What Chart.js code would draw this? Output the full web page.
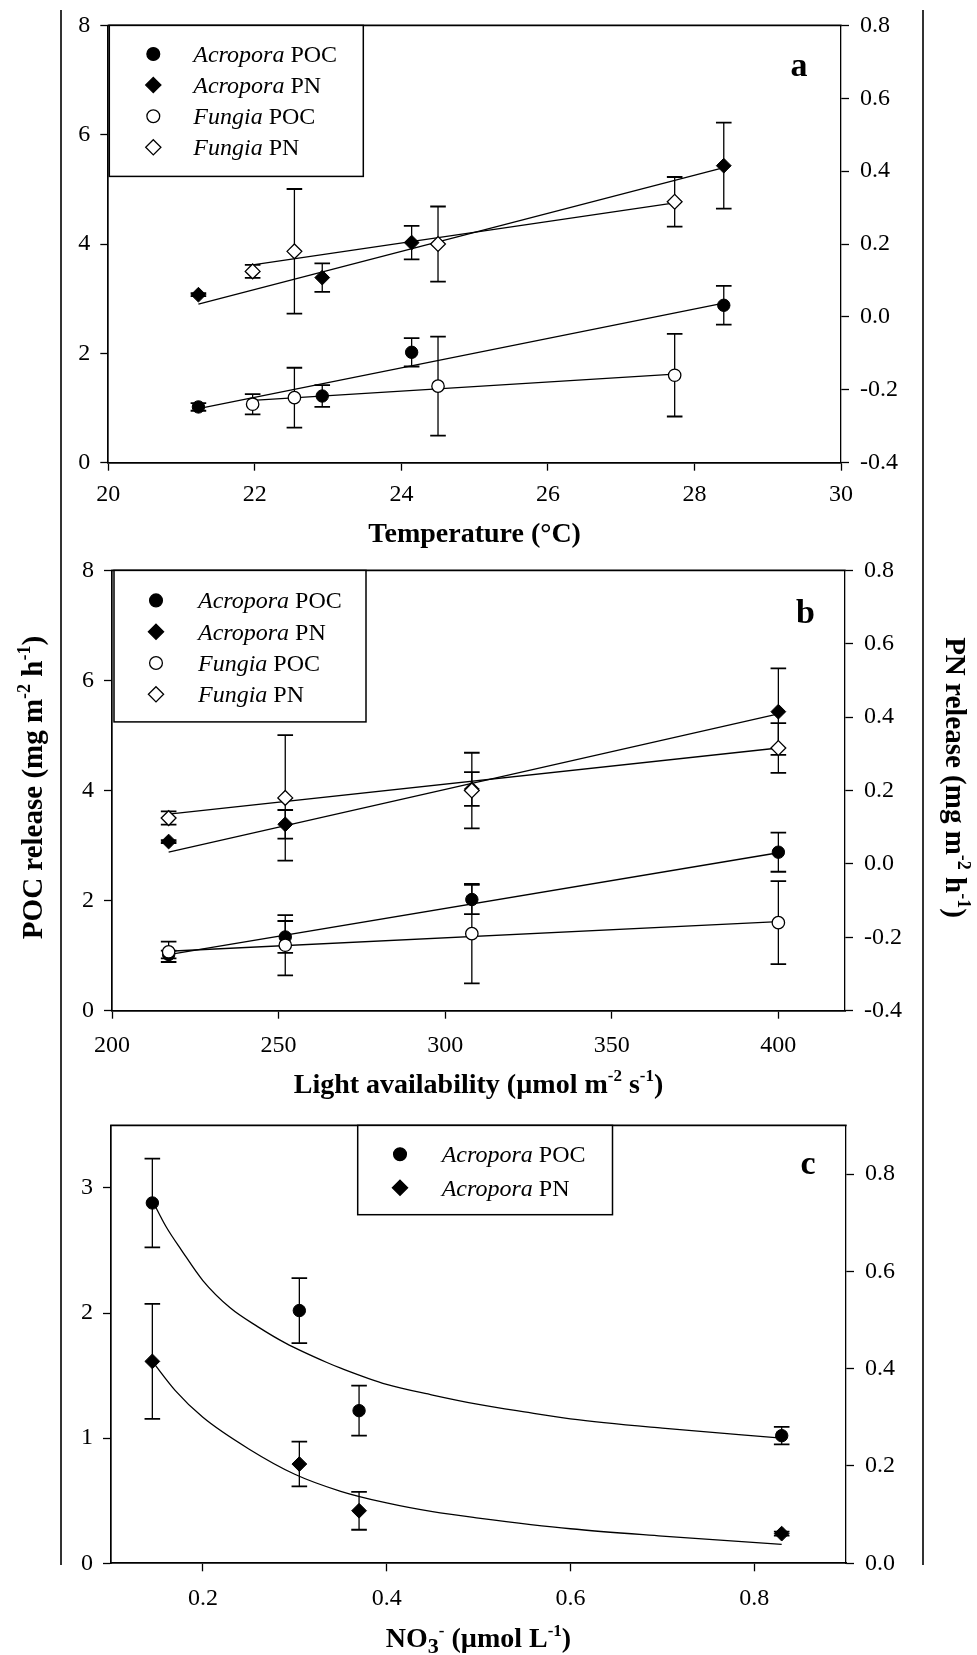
<!DOCTYPE html>
<html>
<head>
<meta charset="utf-8">
<title>Coral POC and PN release</title>
<script src="https://cdn.jsdelivr.net/npm/chart.js@4.4.1/dist/chart.umd.min.js"></script>
<style>
  html, body { margin: 0; padding: 0; background: #fff; }
  #page { position: relative; width: 977px; height: 1655px; overflow: hidden; background: #fff; }
  .rule { position: absolute; top: 10px; height: 1555px; width: 1.5px; background: #333; }
  canvas { position: absolute; left: 0; }
</style>
</head>
<body>
<div id="page">
  <div class="rule" style="left:60px"></div>
  <div class="rule" style="left:922px"></div>
  <canvas id="panelA" width="977" height="560" style="top:0px"></canvas>
  <canvas id="panelB" width="977" height="555" style="top:545px"></canvas>
  <canvas id="panelC" width="977" height="555" style="top:1100px"></canvas>
</div>
<script>
// ---------- measured conditions ----------
const acroTemp = [21.23, 22.92, 24.14, 28.4];      // °C, Acropora incubations
const fungTemp = [21.97, 22.54, 24.5, 27.73];      // °C, Fungia incubations
const lightLevels = [217, 252, 308, 400];          // µmol m-2 s-1
const acroNitrate = [0.83, 0.37, 0.305, 0.145];    // µmol L-1 (same order as acroTemp)

// ---------- release rates (mean ± SE) ----------
const acroPOC   = [1.02, 1.22, 2.02, 2.88];
const acroPOCse = [0.07, 0.20, 0.26, 0.355];
const acroPOClight   = [1.02, 1.34, 2.02, 2.88];
const acroPOClightSe = [0.07, 0.29, 0.265, 0.355];
const acroPN    = [0.061, 0.108, 0.204, 0.415];
const acroPNse  = [0.004, 0.039, 0.046, 0.118];
const fungPOC   = [1.07, 1.19, 1.40, 1.60];
const fungPOCse = [0.185, 0.547, 0.905, 0.755];
const fungPN    = [0.125, 0.18, 0.2, 0.316];
const fungPNse  = [0.018, 0.171, 0.103, 0.068];

// ---------- regression lines (end points) ----------
const fitTempAcroX = [21.23, 28.4];
const fitTempAcroPOC = [0.99, 2.92];
const fitTempAcroPN = [0.035, 0.41];
const fitTempFungX = [21.97, 27.73];
const fitTempFungPOC = [1.14, 1.62];
const fitTempFungPN = [0.143, 0.313];
const fitLightX = [217, 400];
const fitLightAcroPOC = [1.02, 2.87];
const fitLightAcroPN = [0.032, 0.409];
const fitLightFungPOC = [1.08, 1.62];
const fitLightFungPN = [0.136, 0.316];

// ---------- nitrate response curves ----------
const curvePOCx = [0.145, 0.16, 0.177, 0.2, 0.23, 0.26, 0.29, 0.335, 0.35, 0.4, 0.45, 0.5, 0.55, 0.6, 0.7, 0.83];
const curvePOCy = [2.9, 2.69, 2.5, 2.26, 2.04, 1.89, 1.76, 1.605, 1.56, 1.43, 1.345, 1.27, 1.21, 1.155, 1.08, 1.0];
const curvePNx  = [0.145, 0.17, 0.2, 0.25, 0.3, 0.35, 0.4, 0.45, 0.5, 0.6, 0.7, 0.83];
const curvePNy  = [0.415, 0.355, 0.3, 0.235, 0.183, 0.148, 0.124, 0.106, 0.093, 0.071, 0.056, 0.039];

// ---------- tick values ----------
const tempTicks = [20, 22, 24, 26, 28, 30];
const lightTicks = [200, 250, 300, 350, 400];
const nitrateTicks = [0.2, 0.4, 0.6, 0.8];
const pocTicksAB = [0, 2, 4, 6, 8];
const pnTicksAB = [-0.4, -0.2, 0, 0.2, 0.4, 0.6, 0.8];
const pocTicksC = [0, 1, 2, 3];
const pnTicksC = [0, 0.2, 0.4, 0.6, 0.8];

// ---------- axis titles (rich text: s = superscript, b = subscript) ----------
const tempTitle = [{ t: 'Temperature (°C)' }];
const lightTitle = [{ t: 'Light availability (µmol m' }, { t: '-2', k: 's' }, { t: ' s' }, { t: '-1', k: 's' }, { t: ')' }];
const nitrateTitle = [{ t: 'NO' }, { t: '3', k: 'b' }, { t: '-', k: 's' }, { t: ' (µmol L' }, { t: '-1', k: 's' }, { t: ')' }];
const pocTitle = [{ t: 'POC release (mg m' }, { t: '-2', k: 's' }, { t: ' h' }, { t: '-1', k: 's' }, { t: ')' }];
const pnTitle = [{ t: 'PN release (mg m' }, { t: '-2', k: 's' }, { t: ' h' }, { t: '-1', k: 's' }, { t: ')' }];

const SERIF = '"Liberation Serif", "Times New Roman", serif';
const pts = (xs, ys) => xs.map((x, i) => ({ x, y: ys[i] }));

// open (Fungia) symbols sit above the filled (Acropora) ones where they overlap
function markerSet(label, xs, ys, se, axisId, shape, filled) {
  return {
    label, data: pts(xs, ys), errors: se, yAxisID: axisId, legend: true,
    order: filled ? 1 : 0,
    showLine: false,
    pointStyle: shape,
    pointRadius: shape === 'circle' ? 6.2 : 7.4,
    pointHoverRadius: shape === 'circle' ? 6.2 : 7.4,
    pointBackgroundColor: filled ? '#000' : '#fff',
    pointBorderColor: '#000',
    pointBorderWidth: filled ? 1 : 1.3,
    backgroundColor: filled ? '#000' : '#fff',
    borderColor: '#000'
  };
}
function fitSet(xs, ys, axisId, smooth) {
  return {
    data: pts(xs, ys), yAxisID: axisId, showLine: true, order: 2,
    pointRadius: 0, pointHoverRadius: 0,
    borderColor: '#000', borderWidth: 1.3, fill: false,
    cubicInterpolationMode: smooth ? 'monotone' : 'default', tension: 0
  };
}
function axis(pos, min, max, tickVals, decimals, size, borderW, pad) {
  return {
    type: 'linear', position: pos, min, max,
    afterBuildTicks: s => { s.ticks = tickVals.map(v => ({ value: v })); },
    afterFit: s => { if (pos === 'bottom') s.height = size; else s.width = size; },
    ticks: {
      color: '#000', font: { family: SERIF, size: 24 },
      padding: pad,
      autoSkip: false, maxRotation: 0, minRotation: 0,
      callback: v => Number(v).toFixed(decimals)
    },
    grid: { drawOnChartArea: false, drawTicks: true, tickLength: 8, tickWidth: 1.3, tickColor: '#000', color: '#000' },
    border: { display: true, color: '#000', width: borderW }
  };
}

function drawRich(ctx, segs, size, cx, cy, angle) {
  const fonts = {
    n: `bold ${size}px ${SERIF}`,
    s: `bold ${Math.round(size * 0.62)}px ${SERIF}`,
    b: `bold ${Math.round(size * 0.78)}px ${SERIF}`
  };
  ctx.save();
  ctx.translate(cx, cy);
  ctx.rotate(angle);
  ctx.textAlign = 'left';
  ctx.textBaseline = 'alphabetic';
  ctx.fillStyle = '#000';
  const widths = segs.map(s => { ctx.font = fonts[s.k || 'n']; return ctx.measureText(s.t).width; });
  let x = -widths.reduce((p, w) => p + w, 0) / 2;
  segs.forEach((s, i) => {
    ctx.font = fonts[s.k || 'n'];
    const dy = s.k === 's' ? -size * 0.42 : (s.k === 'b' ? size * 0.2 : 0);
    ctx.fillText(s.t, x, dy);
    x += widths[i];
  });
  ctx.restore();
}

function drawMarker(ctx, style, fill, x, y) {
  ctx.beginPath();
  if (style === 'circle') {
    ctx.arc(x, y, 6.4, 0, Math.PI * 2);
  } else {
    const r = 7.6;
    ctx.moveTo(x, y - r); ctx.lineTo(x + r, y); ctx.lineTo(x, y + r); ctx.lineTo(x - r, y); ctx.closePath();
  }
  ctx.fillStyle = fill; ctx.fill();
  ctx.lineWidth = 1.3; ctx.strokeStyle = '#000'; ctx.stroke();
}

function drawLegend(chart, L) {
  const ctx = chart.ctx, a = chart.chartArea;
  const x0 = a.left + L.x0, x1 = a.left + L.x1, y0 = a.top, y1 = a.top + L.h;
  ctx.save();
  ctx.fillStyle = '#fff';
  ctx.fillRect(x0, y0, x1 - x0, y1 - y0);
  ctx.strokeStyle = '#000'; ctx.lineWidth = 1.5;
  ctx.strokeRect(x0, y0, x1 - x0, y1 - y0);
  const items = chart.data.datasets.filter(d => d.legend);
  items.forEach((d, k) => {
    const cy = y0 + L.row0 + k * L.gap;
    drawMarker(ctx, d.pointStyle, d.pointBackgroundColor, a.left + L.mx, cy);
    const sp = d.label.indexOf(' ');
    const genus = d.label.slice(0, sp), rest = d.label.slice(sp);
    ctx.fillStyle = '#000'; ctx.textAlign = 'left'; ctx.textBaseline = 'alphabetic';
    ctx.font = `italic 24px ${SERIF}`;
    ctx.fillText(genus, a.left + L.tx, cy + 8);
    const w = ctx.measureText(genus).width;
    ctx.font = `24px ${SERIF}`;
    ctx.fillText(rest, a.left + L.tx + w, cy + 8);
  });
  ctx.restore();
}

// per-panel decoration settings
const decor = {
  panelA: {
    letter: 'a', letterDx: -42, letterDy: 51, xTitle: tempTitle, xTitleDy: 79,
    legend: { x0: 1, x1: 255, h: 151, row0: 28.6, gap: 31.1, mx: 45, tx: 85 }
  },
  panelB: {
    letter: 'b', letterDx: -39.5, letterDy: 52.5, xTitle: lightTitle, xTitleDy: 82,
    yTitle: pocTitle, yTitleX: 42, yTitleY: 242.5,
    y1Title: pnTitle, y1TitleX: 946, y1TitleY: 232.5,
    legend: { x0: 2, x1: 254, h: 151.5, row0: 30, gap: 31.3, mx: 44, tx: 86 }
  },
  panelC: {
    letter: 'c', letterDx: -38, letterDy: 49, xTitle: nitrateTitle, xTitleDy: 84,
    legend: { x0: 246.7, x1: 501.5, h: 89.3, row0: 28.8, gap: 33.5, mx: 289, tx: 330.7 }
  }
};

const panelDecor = {
  id: 'panelDecor',
  beforeDatasetsDraw(chart) {
    const ctx = chart.ctx;
    ctx.save();
    ctx.strokeStyle = '#000';
    chart.data.datasets.forEach((ds, i) => {
      if (!ds.errors) return;
      const meta = chart.getDatasetMeta(i);
      const ys = chart.scales[ds.yAxisID];
      ds.data.forEach((p, j) => {
        const e = ds.errors[j];
        if (!e) return;
        const x = meta.data[j].x;
        const yt = ys.getPixelForValue(p.y + e), yb = ys.getPixelForValue(p.y - e);
        ctx.lineWidth = 1.3;
        ctx.beginPath(); ctx.moveTo(x, yt); ctx.lineTo(x, yb); ctx.stroke();
        ctx.lineWidth = 1.8;
        ctx.beginPath();
        ctx.moveTo(x - 7.8, yt); ctx.lineTo(x + 7.8, yt);
        ctx.moveTo(x - 7.8, yb); ctx.lineTo(x + 7.8, yb);
        ctx.stroke();
      });
    });
    ctx.restore();
  },
  afterDraw(chart) {
    const o = decor[chart.canvas.id];
    const a = chart.chartArea, ctx = chart.ctx;
    ctx.save();
    // closing top frame line
    ctx.strokeStyle = '#000'; ctx.lineWidth = 1.7;
    ctx.beginPath(); ctx.moveTo(a.left - 0.85, a.top); ctx.lineTo(a.right + 0.65, a.top); ctx.stroke();
    // panel letter
    ctx.fillStyle = '#000'; ctx.textAlign = 'center'; ctx.textBaseline = 'alphabetic';
    ctx.font = `bold 34px ${SERIF}`;
    ctx.fillText(o.letter, a.right + o.letterDx, a.top + o.letterDy);
    ctx.restore();
    drawRich(ctx, o.xTitle, 28, (a.left + a.right) / 2, a.bottom + o.xTitleDy, 0);
    if (o.yTitle) drawRich(ctx, o.yTitle, 29, o.yTitleX, o.yTitleY, -Math.PI / 2);
    if (o.y1Title) drawRich(ctx, o.y1Title, 29, o.y1TitleX, o.y1TitleY, Math.PI / 2);
    drawLegend(chart, o.legend);
  }
};

function makeChart(id, datasets, scales, padTop) {
  return new Chart(document.getElementById(id), {
    type: 'scatter',
    data: { datasets },
    options: {
      responsive: false, animation: false, devicePixelRatio: 1, events: [],
      layout: { padding: { top: padTop, left: 0, right: 0, bottom: 0 } },
      plugins: { legend: { display: false }, tooltip: { enabled: false } },
      scales
    },
    plugins: [panelDecor]
  });
}

// a — temperature
makeChart('panelA', [
  markerSet('Acropora POC', acroTemp, acroPOC, acroPOCse, 'y', 'circle', true),
  markerSet('Acropora PN', acroTemp, acroPN, acroPNse, 'y1', 'rectRot', true),
  markerSet('Fungia POC', fungTemp, fungPOC, fungPOCse, 'y', 'circle', false),
  markerSet('Fungia PN', fungTemp, fungPN, fungPNse, 'y1', 'rectRot', false),
  fitSet(fitTempAcroX, fitTempAcroPOC, 'y'),
  fitSet(fitTempAcroX, fitTempAcroPN, 'y1'),
  fitSet(fitTempFungX, fitTempFungPOC, 'y'),
  fitSet(fitTempFungX, fitTempFungPN, 'y1')
], {
  x: axis('bottom', 20, 30, tempTicks, 0, 560 - 462.7, 1.7, 10),
  y: axis('left', 0, 8, pocTicksAB, 0, 108.3, 1.7, 10),
  y1: axis('right', -0.4, 0.8, pnTicksAB, 1, 977 - 841, 1.3, 11)
}, 14.7);

// b — light
makeChart('panelB', [
  markerSet('Acropora POC', lightLevels, acroPOClight, acroPOClightSe, 'y', 'circle', true),
  markerSet('Acropora PN', lightLevels, acroPN, acroPNse, 'y1', 'rectRot', true),
  markerSet('Fungia POC', lightLevels, fungPOC, fungPOCse, 'y', 'circle', false),
  markerSet('Fungia PN', lightLevels, fungPN, fungPNse, 'y1', 'rectRot', false),
  fitSet(fitLightX, fitLightAcroPOC, 'y'),
  fitSet(fitLightX, fitLightAcroPN, 'y1'),
  fitSet(fitLightX, fitLightFungPOC, 'y'),
  fitSet(fitLightX, fitLightFungPN, 'y1')
], {
  x: axis('bottom', 200, 420, lightTicks, 0, 555 - 465.7, 1.7, 13),
  y: axis('left', 0, 8, pocTicksAB, 0, 112, 1.7, 10),
  y1: axis('right', -0.4, 0.8, pnTicksAB, 1, 977 - 845, 1.3, 11)
}, 19.3);

// c — nitrate
makeChart('panelC', [
  markerSet('Acropora POC', acroNitrate, acroPOC, acroPOCse, 'y', 'circle', true),
  markerSet('Acropora PN', acroNitrate, acroPN, acroPNse, 'y1', 'rectRot', true),
  fitSet(curvePOCx, curvePOCy, 'y', true),
  fitSet(curvePNx, curvePNy, 'y1', true)
], {
  x: axis('bottom', 0.1, 0.9, nitrateTicks, 1, 555 - 463.3, 1.7, 13),
  y: axis('left', 0, 3.5, pocTicksC, 0, 111, 1.7, 10),
  y1: axis('right', 0, 0.9, pnTicksC, 1, 977 - 846, 1.3, 11)
}, 16.7);
</script>
</body>
</html>
